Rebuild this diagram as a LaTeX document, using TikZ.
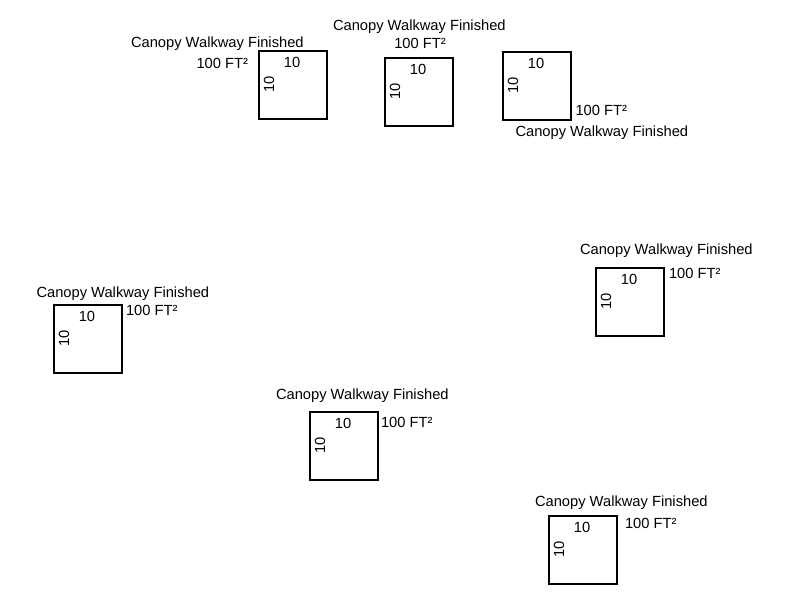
\documentclass[tikz,border=0pt]{standalone}
\usepackage{fontspec}
\setmainfont{Liberation Sans}
\begin{document}
\begin{tikzpicture}[x=1pt,y=-1pt,
  lbl/.style={inner sep=0pt,outer sep=0pt,font=\fontsize{14.7}{17}\selectfont},
  sq/.style={draw=black,line width=2pt,minimum width=68pt,minimum height=68pt,inner sep=0pt,outer sep=0pt,anchor=north west},
]
\useasboundingbox[fill=white] (0,0) rectangle (800,600);
\foreach \n/\l/\t in {a/259/51, b/385/58, c/503/52, d/54/305, e/596/268, f/310/412, g/549/516}{
  \node[sq] (box\n) at (\l,\t) {};
  \node[lbl,anchor=base] (top\n) at (\l+33,\t+16) {10};
  \node[lbl,rotate=90] (side\n) at (\l+10,\t+33.5) {10};
}
\node[lbl,anchor=base west] (ta) at (131,47) {Canopy Walkway Finished};
\node[lbl,anchor=base east] (aa) at (248,68) {100 FT²};
\node[lbl,anchor=base west] (tb) at (333,30) {Canopy Walkway Finished};
\node[lbl,anchor=base] (ab) at (420,48.5) {100 FT²};
\node[lbl,anchor=base west] (ac) at (575.5,115) {100 FT²};
\node[lbl,anchor=base west] (tc) at (515.5,136.5) {Canopy Walkway Finished};
\node[lbl,anchor=base west] (td) at (36.5,297) {Canopy Walkway Finished};
\node[lbl,anchor=base west] (ad) at (126,315) {100 FT²};
\node[lbl,anchor=base west] (te) at (580,254) {Canopy Walkway Finished};
\node[lbl,anchor=base west] (ae) at (669,278) {100 FT²};
\node[lbl,anchor=base west] (tf) at (276,399) {Canopy Walkway Finished};
\node[lbl,anchor=base west] (af) at (381,427) {100 FT²};
\node[lbl,anchor=base west] (tg) at (535,506) {Canopy Walkway Finished};
\node[lbl,anchor=base west] (ag) at (625,528) {100 FT²};
\end{tikzpicture}
\end{document}
